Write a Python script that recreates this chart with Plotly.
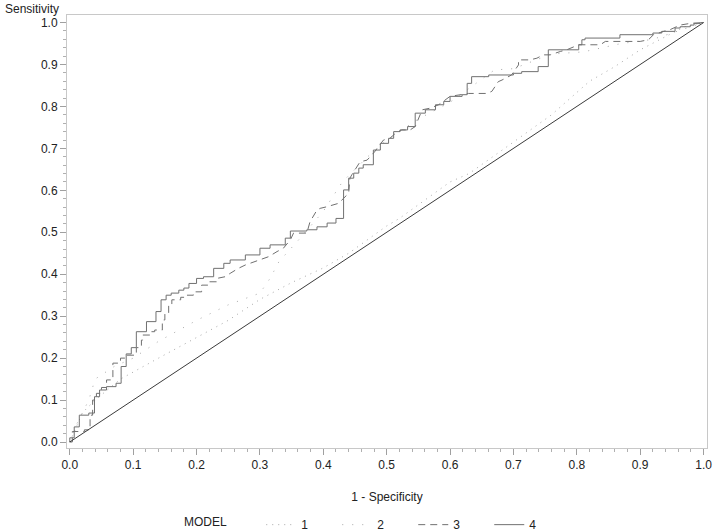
import plotly.graph_objects as go

# ---- data ----
model_names = ["1", "2", "3", "4"]

fpr1 = [0, 0.02, 0.04, 0.08, 0.14, 0.20, 0.25, 0.30, 0.35, 0.40, 0.44, 0.50, 0.52, 0.60, 0.63, 0.70, 0.76, 0.82, 0.86, 0.90, 0.94, 0.97, 1.0]
tpr1 = [0, 0.07, 0.10, 0.15, 0.20, 0.25, 0.29, 0.34, 0.38, 0.415, 0.45, 0.515, 0.533, 0.62, 0.64, 0.715, 0.78, 0.86, 0.895, 0.935, 0.967, 0.99, 1.0]

fpr2 = [0, 0.01, 0.03, 0.04, 0.07, 0.10, 0.14, 0.20, 0.25, 0.30, 0.316, 0.33, 0.36, 0.40, 0.43, 0.47, 0.50, 0.55, 0.60, 0.67, 0.70, 0.76, 0.81, 0.87, 0.92, 0.96, 1.0]
tpr2 = [0, 0.04, 0.10, 0.15, 0.18, 0.20, 0.24, 0.29, 0.327, 0.355, 0.39, 0.43, 0.48, 0.55, 0.62, 0.68, 0.72, 0.77, 0.81, 0.887, 0.89, 0.925, 0.93, 0.95, 0.96, 0.98, 1.0]

fpr3 = [0, 0.004, 0.004, 0.023, 0.023, 0.032, 0.032, 0.036, 0.036, 0.042, 0.042, 0.050, 0.050, 0.058, 0.058, 0.068, 0.068, 0.080, 0.080, 0.089, 0.089,
        0.105, 0.105, 0.113, 0.113, 0.115, 0.115, 0.128, 0.128, 0.134, 0.134, 0.146, 0.146, 0.150, 0.150, 0.156, 0.156, 0.161, 0.161,
        0.175, 0.175, 0.182, 0.182, 0.195, 0.195, 0.208, 0.208, 0.219, 0.219, 0.232, 0.232, 0.245, 0.253, 0.266, 0.277, 0.285, 0.300,
        0.314, 0.327, 0.337, 0.348, 0.353, 0.374, 0.379, 0.390, 0.395, 0.406, 0.414, 0.424, 0.432, 0.440, 0.442, 0.445, 0.458, 0.469,
        0.480, 0.495, 0.505, 0.514, 0.524, 0.537, 0.545, 0.556, 0.569, 0.582, 0.600, 0.616, 0.629, 0.642, 0.658, 0.666, 0.676, 0.682,
        0.697, 0.708, 0.708, 0.726, 0.737, 0.747, 0.758, 0.774, 0.784, 0.803, 0.837, 0.845, 0.900, 0.913, 0.921, 0.937, 0.947, 0.963,
        0.979, 1.0]
tpr3 = [0, 0, 0.025, 0.025, 0.029, 0.029, 0.064, 0.064, 0.100, 0.100, 0.116, 0.116, 0.130, 0.130, 0.148, 0.148, 0.188, 0.188, 0.200, 0.200, 0.207,
        0.207, 0.225, 0.225, 0.243, 0.243, 0.255, 0.255, 0.263, 0.263, 0.267, 0.267, 0.291, 0.291, 0.307, 0.307, 0.325, 0.325, 0.339,
        0.339, 0.345, 0.345, 0.350, 0.350, 0.358, 0.358, 0.374, 0.374, 0.382, 0.382, 0.390, 0.394, 0.402, 0.414, 0.422, 0.426, 0.434,
        0.442, 0.454, 0.462, 0.482, 0.498, 0.498, 0.525, 0.553, 0.557, 0.561, 0.565, 0.569, 0.581, 0.593, 0.629, 0.637, 0.668, 0.672,
        0.690, 0.720, 0.724, 0.736, 0.744, 0.744, 0.752, 0.792, 0.796, 0.804, 0.824, 0.828, 0.831, 0.831, 0.831, 0.836, 0.859, 0.863,
        0.875, 0.899, 0.911, 0.911, 0.915, 0.923, 0.923, 0.931, 0.935, 0.947, 0.947, 0.955, 0.955, 0.959, 0.971, 0.979, 0.983, 0.994,
        0.998, 1.0]

fpr4 = [0, 0, 0.007, 0.007, 0.015, 0.015, 0.030, 0.030, 0.039, 0.039, 0.047, 0.047, 0.058, 0.058, 0.073, 0.073, 0.081, 0.081, 0.089, 0.089,
        0.097, 0.097, 0.105, 0.105, 0.121, 0.121, 0.136, 0.136, 0.144, 0.144, 0.152, 0.152, 0.160, 0.160, 0.172, 0.172, 0.180, 0.180,
        0.188, 0.188, 0.200, 0.200, 0.211, 0.211, 0.227, 0.227, 0.243, 0.243, 0.253, 0.253, 0.277, 0.277, 0.300, 0.300, 0.316, 0.316,
        0.340, 0.340, 0.348, 0.348, 0.374, 0.374, 0.390, 0.390, 0.406, 0.406, 0.420, 0.420, 0.432, 0.432, 0.440, 0.440, 0.448, 0.448,
        0.456, 0.456, 0.463, 0.463, 0.479, 0.479, 0.490, 0.490, 0.503, 0.503, 0.511, 0.511, 0.521, 0.521, 0.533, 0.533, 0.545, 0.545,
        0.561, 0.561, 0.577, 0.577, 0.590, 0.590, 0.600, 0.600, 0.619, 0.619, 0.627, 0.627, 0.634, 0.634, 0.661, 0.661, 0.700, 0.700,
        0.713, 0.713, 0.739, 0.739, 0.755, 0.755, 0.803, 0.803, 0.808, 0.808, 0.813, 0.813, 0.868, 0.868, 0.920, 0.920, 0.934, 0.934,
        0.955, 0.955, 0.963, 0.963, 0.979, 0.979, 0.985, 0.985, 0.995, 0.995, 1.0]
tpr4 = [0, 0.010, 0.010, 0.036, 0.036, 0.064, 0.064, 0.069, 0.069, 0.108, 0.108, 0.124, 0.124, 0.132, 0.132, 0.140, 0.140, 0.180, 0.180, 0.210,
        0.210, 0.225, 0.225, 0.263, 0.263, 0.287, 0.287, 0.311, 0.311, 0.339, 0.339, 0.350, 0.350, 0.355, 0.355, 0.362, 0.362, 0.367,
        0.367, 0.378, 0.378, 0.390, 0.390, 0.394, 0.394, 0.414, 0.414, 0.426, 0.426, 0.434, 0.434, 0.446, 0.446, 0.462, 0.462, 0.470,
        0.470, 0.486, 0.486, 0.503, 0.503, 0.506, 0.506, 0.513, 0.513, 0.522, 0.522, 0.533, 0.533, 0.601, 0.601, 0.629, 0.629, 0.641,
        0.641, 0.653, 0.653, 0.661, 0.661, 0.696, 0.696, 0.712, 0.712, 0.724, 0.724, 0.740, 0.740, 0.744, 0.744, 0.752, 0.752, 0.784,
        0.784, 0.792, 0.792, 0.804, 0.804, 0.812, 0.812, 0.824, 0.824, 0.828, 0.828, 0.855, 0.855, 0.871, 0.871, 0.875, 0.875, 0.879,
        0.879, 0.883, 0.883, 0.895, 0.895, 0.935, 0.935, 0.947, 0.947, 0.959, 0.959, 0.963, 0.963, 0.971, 0.971, 0.975, 0.975, 0.979,
        0.979, 0.987, 0.987, 0.990, 0.990, 0.994, 0.994, 0.998, 0.998, 1.0, 1.0]

ref_line = [0, 1]
tick_vals = [0, 0.1, 0.2, 0.3, 0.4, 0.5, 0.6, 0.7, 0.8, 0.9, 1.0]
tick_text = ["0.0", "0.1", "0.2", "0.3", "0.4", "0.5", "0.6", "0.7", "0.8", "0.9", "1.0"]

FONT = "Liberation Sans, Arial, sans-serif"
TXT = "#222222"

fig = go.Figure()
styles = [
    dict(color="#a8a8a8", width=1, dash="1px,5px"),
    dict(color="#a8a8a8", width=1, dash="1px,9px"),
    dict(color="#707070", width=1, dash="7px,5px"),
    dict(color="#707070", width=1),
]
series = [(fpr1, tpr1), (fpr2, tpr2), (fpr3, tpr3), (fpr4, tpr4)]
for name, (xs, ys), st in zip(model_names, series, styles):
    fig.add_trace(go.Scatter(x=xs, y=ys, mode="lines", name=name, line=st, hoverinfo="skip"))

fig.add_trace(go.Scatter(x=ref_line, y=ref_line, mode="lines", showlegend=False,
                         line=dict(color="#3a3a3a", width=1), hoverinfo="skip"))

axis_common = dict(
    showgrid=False, zeroline=False, showline=True, linecolor="#c8c8c8", linewidth=1, mirror=True,
    ticks="outside", ticklen=6, tickcolor="#a0a0a0", tickwidth=1,
    tickvals=tick_vals, ticktext=tick_text, ticklabeloverflow="allow",
    tickfont=dict(family=FONT, size=12, color=TXT),
    minor=dict(dtick=0.02, tick0=0, ticks="outside", ticklen=3, tickcolor="#b0b0b0", tickwidth=1, showgrid=False),
)

fig.update_layout(
    width=714, height=532,
    margin=dict(l=67, r=7, t=15, b=84, autoexpand=False),
    paper_bgcolor="white", plot_bgcolor="white",
    font=dict(family=FONT, size=12, color=TXT),
    xaxis=dict(range=[-0.0044, 1.0054], title=dict(text="1 - Specificity", standoff=21,
               font=dict(family=FONT, size=12, color=TXT)), **axis_common),
    yaxis=dict(range=[-0.0143, 1.018], **axis_common),
    legend=dict(orientation="h", x=0.1795, xanchor="left", y=-0.177, yanchor="middle",
                title=dict(text="MODEL" + "&nbsp;" * 8, side="left", font=dict(family=FONT, size=12, color=TXT)),
                font=dict(family=FONT, size=12, color=TXT),
                entrywidth=31, entrywidthmode="pixels", itemwidth=30, traceorder="normal"),
    showlegend=True,
    annotations=[dict(text="Sensitivity", x=-0.1, xanchor="left", y=1.0, yanchor="bottom",
                      yshift=-3, xref="paper", yref="paper", showarrow=False,
                      font=dict(family=FONT, size=12, color=TXT))],
)

fig.write_html("out.html", config={"displayModeBar": False})

# remove the browser's default page margin so the figure sits at the window's top-left corner
with open("out.html", "r", encoding="utf-8") as fh:
    html = fh.read()
html = html.replace("<body>", '<body style="margin:0;padding:0;">', 1)
with open("out.html", "w", encoding="utf-8") as fh:
    fh.write(html)
